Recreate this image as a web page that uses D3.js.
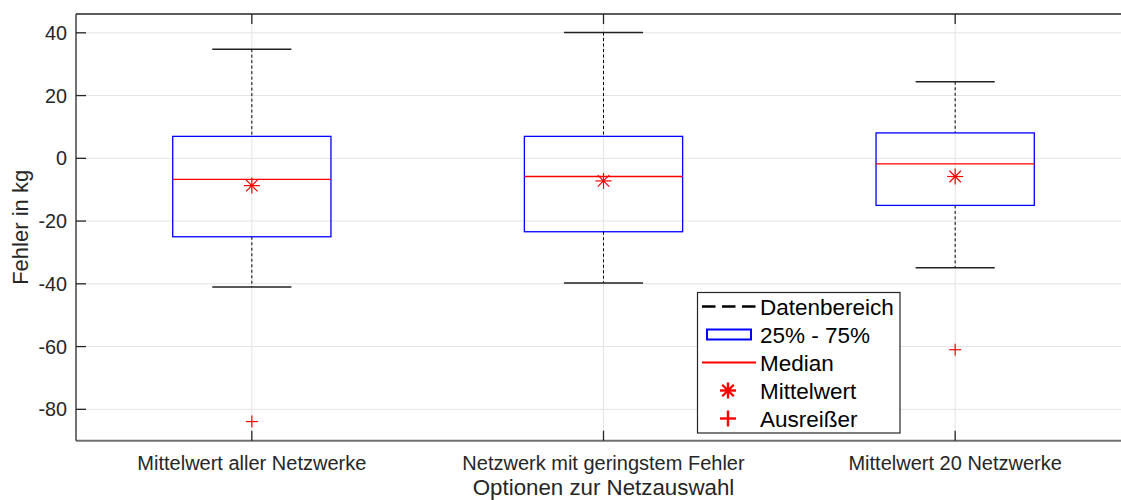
<!DOCTYPE html>
<html><head><meta charset="utf-8">
<script src="https://cdn.jsdelivr.net/npm/d3@7"></script>
<style>body{margin:0;background:#fff}svg{display:block;font-family:"Liberation Sans",Arial,sans-serif}</style>
</head><body>
<svg id="chart" width="1121" height="500"></svg>
<script>
const categories = ["Mittelwert aller Netzwerke", "Netzwerk mit geringstem Fehler", "Mittelwert 20 Netzwerke"];
const whiskerHigh = [34.8, 40.1, 24.4];
const q3 = [7.0, 7.0, 8.1];
const median = [-6.7, -5.8, -1.8];
const meanVals = [-8.7, -7.2, -5.8];
const q1 = [-25.0, -23.4, -15.0];
const whiskerLow = [-41.0, -39.7, -34.9];
const outliers = [[-83.9], [], [-61.0]];
const yTicks = [-80, -60, -40, -20, 0, 20, 40];
const legendLabels = ["Datenbereich", "25% - 75%", "Median", "Mittelwert", "Ausreißer"];

const svg = d3.select("#chart");
const x = d3.scaleLinear().domain([0.5, 3.5]).range([76, 1131]);
const y = d3.scaleLinear().domain([-90, 46]).range([440.7, 14]);
const axisCol = "#262626";
const boxHalf = 0.225, capHalf = 0.1125;

// grid
const g = svg.append("g");
g.selectAll(".hg").data(yTicks).join("line")
  .attr("x1", x.range()[0]).attr("x2", x.range()[1])
  .attr("y1", d => y(d)).attr("y2", d => y(d))
  .attr("stroke", "#e3e3e3").attr("stroke-width", 1);
g.selectAll(".vg").data(categories).join("line")
  .attr("x1", (d, i) => x(i + 1)).attr("x2", (d, i) => x(i + 1))
  .attr("y1", y.range()[0]).attr("y2", y.range()[1])
  .attr("stroke", "#e3e3e3").attr("stroke-width", 1);

// boxes
const data = categories.map((c, i) => ({i: i + 1, hi: whiskerHigh[i], q3: q3[i], med: median[i], mean: meanVals[i], q1: q1[i], lo: whiskerLow[i], out: outliers[i]}));
const b = svg.append("g").selectAll("g").data(data).join("g");
b.append("line").attr("x1", d => x(d.i)).attr("x2", d => x(d.i)).attr("y1", d => y(d.hi)).attr("y2", d => y(d.q3))
  .attr("stroke", "#000").attr("stroke-width", 1).attr("stroke-dasharray", "3,2.5");
b.append("line").attr("x1", d => x(d.i)).attr("x2", d => x(d.i)).attr("y1", d => y(d.q1)).attr("y2", d => y(d.lo))
  .attr("stroke", "#000").attr("stroke-width", 1).attr("stroke-dasharray", "3,2.5");
b.append("line").attr("x1", d => x(d.i - capHalf)).attr("x2", d => x(d.i + capHalf)).attr("y1", d => y(d.hi)).attr("y2", d => y(d.hi))
  .attr("stroke", "#222").attr("stroke-width", 1.5);
b.append("line").attr("x1", d => x(d.i - capHalf)).attr("x2", d => x(d.i + capHalf)).attr("y1", d => y(d.lo)).attr("y2", d => y(d.lo))
  .attr("stroke", "#222").attr("stroke-width", 1.5);
b.append("rect").attr("x", d => x(d.i - boxHalf)).attr("width", d => x(d.i + boxHalf) - x(d.i - boxHalf))
  .attr("y", d => y(d.q3)).attr("height", d => y(d.q1) - y(d.q3))
  .attr("fill", "none").attr("stroke", "#0000ff").attr("stroke-width", 1.3);
b.append("line").attr("x1", d => x(d.i - boxHalf)).attr("x2", d => x(d.i + boxHalf)).attr("y1", d => y(d.med)).attr("y2", d => y(d.med))
  .attr("stroke", "#ff0000").attr("stroke-width", 1.3);

function asterisk(sel, cx, cy, r, w) {
  const gg = sel.append("g").attr("stroke", "#ff0000").attr("stroke-width", w);
  const a = r * 0.72;
  [[0, -r, 0, r], [-r, 0, r, 0], [-a, -a, a, a], [-a, a, a, -a]].forEach(s =>
    gg.append("line").attr("x1", cx + s[0]).attr("y1", cy + s[1]).attr("x2", cx + s[2]).attr("y2", cy + s[3]));
}
function plus(sel, cx, cy, r, w) {
  const gg = sel.append("g").attr("stroke", "#ff0000").attr("stroke-width", w);
  gg.append("line").attr("x1", cx - r).attr("x2", cx + r).attr("y1", cy).attr("y2", cy);
  gg.append("line").attr("x1", cx).attr("x2", cx).attr("y1", cy - r).attr("y2", cy + r);
}
b.each(function(d) {
  const s = d3.select(this);
  asterisk(s, x(d.i), y(d.mean), 8, 1.2);
  d.out.forEach(o => plus(s, x(d.i), y(o), 6, 1.2));
});

// axes
const [x0, x1] = x.range(), [yb, yt] = y.range();
const ax = svg.append("g").attr("stroke", axisCol).attr("stroke-width", 1.3);
ax.append("line").attr("x1", x0).attr("x2", x1).attr("y1", yt).attr("y2", yt);
ax.append("line").attr("x1", x0).attr("x2", x1).attr("y1", yb).attr("y2", yb).attr("stroke", "#707070").attr("stroke-width", 2);
ax.append("line").attr("x1", x0).attr("x2", x0).attr("y1", yt).attr("y2", yb);
ax.append("line").attr("x1", x1).attr("x2", x1).attr("y1", yt).attr("y2", yb);
ax.selectAll(".ylt").data(yTicks).join("line").attr("x1", x0).attr("x2", x0 + 10).attr("y1", d => y(d)).attr("y2", d => y(d));
ax.selectAll(".yrt").data(yTicks).join("line").attr("x1", x1 - 10).attr("x2", x1).attr("y1", d => y(d)).attr("y2", d => y(d));
ax.selectAll(".xbt").data(categories).join("line").attr("x1", (d, i) => x(i + 1)).attr("x2", (d, i) => x(i + 1)).attr("y1", yb).attr("y2", yb - 10);
ax.selectAll(".xtt").data(categories).join("line").attr("x1", (d, i) => x(i + 1)).attr("x2", (d, i) => x(i + 1)).attr("y1", yt).attr("y2", yt + 10);

svg.append("g").selectAll("text").data(yTicks).join("text")
  .attr("x", 67).attr("y", d => y(d)).attr("dy", "0.35em").attr("text-anchor", "end")
  .attr("font-size", 19.8).attr("fill", axisCol).text(d => d);
svg.append("g").selectAll("text").data(categories).join("text")
  .attr("x", (d, i) => x(i + 1)).attr("y", 470).attr("text-anchor", "middle")
  .attr("font-size", 20).attr("fill", axisCol).text(d => d);
svg.append("text").attr("x", (x0 + x1) / 2).attr("y", 495).attr("text-anchor", "middle")
  .attr("font-size", 22.3).attr("fill", axisCol).text("Optionen zur Netzauswahl");
svg.append("text").attr("transform", `translate(28,${(yt + yb) / 2}) rotate(-90)`).attr("text-anchor", "middle")
  .attr("font-size", 22).attr("fill", axisCol).text("Fehler in kg");

// legend
const L = svg.append("g");
L.append("rect").attr("x", 697.5).attr("y", 292.5).attr("width", 202.5).attr("height", 140.5)
  .attr("fill", "#fff").attr("stroke", "#262626").attr("stroke-width", 1.2);
const rowY = i => 306.5 + i * 28;
L.selectAll("text").data(legendLabels).join("text")
  .attr("x", 760).attr("y", (d, i) => rowY(i)).attr("dy", "0.36em")
  .attr("font-size", 22.5).attr("fill", "#000").text(d => d);
L.append("line").attr("x1", 702).attr("x2", 756).attr("y1", rowY(0)).attr("y2", rowY(0))
  .attr("stroke", "#000").attr("stroke-width", 2.5).attr("stroke-dasharray", "13.5,6.5");
L.append("rect").attr("x", 707).attr("y", rowY(1) - 5).attr("width", 44).attr("height", 10)
  .attr("fill", "none").attr("stroke", "#0000ff").attr("stroke-width", 2);
L.append("line").attr("x1", 702).attr("x2", 756).attr("y1", rowY(2)).attr("y2", rowY(2))
  .attr("stroke", "#ff0000").attr("stroke-width", 2);
asterisk(L, 728, rowY(3), 8, 2.4);
plus(L, 728, rowY(4), 8, 2.4);
</script>
</body></html>
